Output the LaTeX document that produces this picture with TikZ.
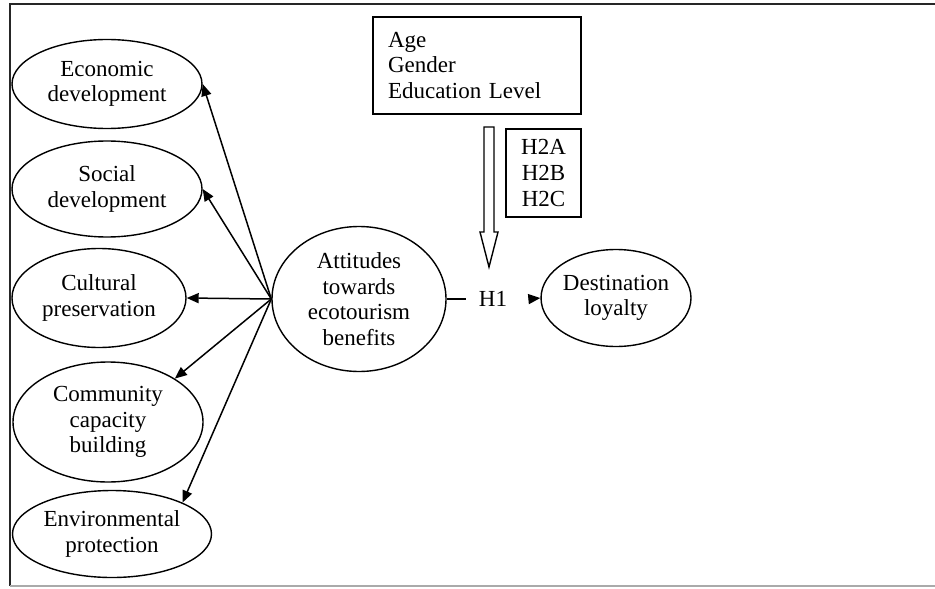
\documentclass[tikz,border=0pt]{standalone}
\usepackage{fontspec}
\setmainfont{Liberation Serif}
\usetikzlibrary{arrows.meta, shapes.geometric, positioning, calc}
\definecolor{framegray}{RGB}{170, 170, 170}

\begin{document}
\begin{tikzpicture}[x=0.5pt, y=-0.5pt,
    every node/.style={font=\fontsize{11.5}{12.8}\selectfont, inner sep=0pt},
    factor/.style={draw, ellipse, line width=0.7pt, align=center},
    outer/.style={factor, minimum width=95pt},
    hyp/.style={-{Triangle[length=6pt, width=5pt]}, line width=0.75pt}]
      \useasboundingbox (0,0) rectangle (935,588);

      % frame of the figure
      \draw[line width=1pt, black!85] (935,4) -- (10,4) -- (10,586);
      \draw[line width=0.8pt, framegray] (10,586) -- (935,586);

      % benefit dimensions
      \node[outer, minimum height=44.5pt] (eco) at (107,84) {Economic\\development};
      \node[outer, minimum height=48pt] (soc) at (107,189) {Social\\development};
      \node[factor, minimum width=87pt, minimum height=49.5pt] (cul) at (99,298) {Cultural\\preservation};
      \node[outer, minimum height=60pt] (com) at (108,422) {Community\\capacity\\building};
      \node[factor, minimum width=99.5pt, minimum height=43.5pt] (env) at (112,534) {Environmental\\protection};

      % central construct and outcome
      \node[factor, minimum width=87pt, minimum height=72.5pt] (att) at (359,299) {Attitudes\\towards\\ecotourism\\benefits};
      \node[factor, minimum width=68.5pt, minimum height=48.5pt] (dest) at (616,298) {Destination\\loyalty};
      \coordinate (hub) at (att.west);

      \draw[hyp] (hub) -- (eco.east);
      \draw[hyp] (hub) -- (soc.east);
      \draw[hyp] (hub) -- (cul.east);
      \draw[hyp] (hub) -- (com.33);
      \draw[hyp] (hub) -- (env.24);

      % H1 path
      \node[inner xsep=6.5pt] (h1) at (493,299) {H1};
      \draw[line width=0.75pt] (att.east) -- (h1.west);
      \draw[hyp] ([xshift=4.5pt]h1.east) -- (dest.west);

      % moderators
      \node[draw, line width=0.7pt, minimum height=48.5pt, text width=89pt,
            inner xsep=7.5pt, align=left] (demo) at (477,65.5) {Age\\Gender\\Education Level};
      \node[draw, line width=0.7pt, minimum width=37.5pt, minimum height=44pt,
            align=center] (h2) at (543.5,173) {H2A\\H2B\\H2C};

      % hollow moderating arrow
      \coordinate (mtop) at (489,127);
      \coordinate (mtip) at (489,267);
      \draw[line width=0.7pt, fill=white]
        ($(mtop)+(-5,0)$) -- ($(mtip)+(-5,-35)$) -- ($(mtip)+(-9,-35)$) -- (mtip)
        -- ($(mtip)+(9,-35)$) -- ($(mtip)+(5,-35)$) -- ($(mtop)+(5,0)$) -- cycle;
    \end{tikzpicture}
\end{document}
